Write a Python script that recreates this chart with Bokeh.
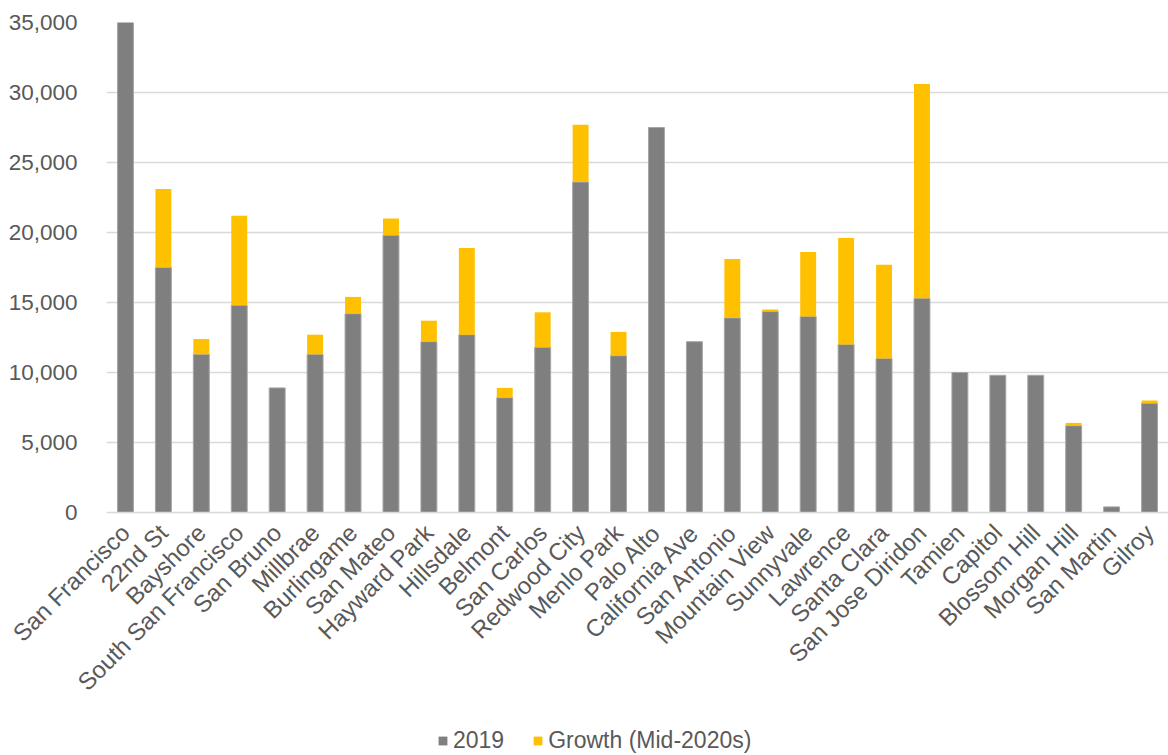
from bokeh.plotting import figure
from bokeh.layouts import column
from bokeh.models import ColumnDataSource, Legend, LegendItem, NumeralTickFormatter, FixedTicker
from bokeh.embed import file_html
from bokeh.resources import INLINE
import math

stations = ["San Francisco", "22nd St", "Bayshore", "South San Francisco", "San Bruno",
            "Millbrae", "Burlingame", "San Mateo", "Hayward Park", "Hillsdale", "Belmont",
            "San Carlos", "Redwood City", "Menlo Park", "Palo Alto", "California Ave",
            "San Antonio", "Mountain View", "Sunnyvale", "Lawrence", "Santa Clara",
            "San Jose Diridon", "Tamien", "Capitol", "Blossom Hill", "Morgan Hill",
            "San Martin", "Gilroy"]
y2019 = [35000, 17500, 11300, 14800, 8900, 11300, 14200, 19800, 12200, 12700, 8200,
         11800, 23600, 11200, 27500, 12200, 13900, 14350, 14000, 12000, 11000,
         15300, 10000, 9800, 9800, 6200, 400, 7800]
growth = [0, 5600, 1100, 6400, 0, 1400, 1200, 1200, 1500, 6200, 700,
          2500, 4100, 1700, 0, 0, 4200, 150, 4600, 7600, 6700,
          15300, 0, 0, 0, 200, 0, 200]
y_ticks = [0, 5000, 10000, 15000, 20000, 25000, 30000, 35000]
series_names = ["2019", "Growth (Mid-2020s)"]
colors = ["#7f7f7f", "#ffc000"]

source = ColumnDataSource(dict(station=stations, y2019=y2019, growth=growth))

FONT = "Liberation Sans"
TXT = "#595959"

p = figure(x_range=stations, y_range=(0, 35000), frame_width=1062, frame_height=490,
           output_backend="svg", toolbar_location=None,
           min_border_left=106, min_border_right=0, min_border_top=22, min_border_bottom=0)

rs = p.vbar_stack(["y2019", "growth"], x="station", width=0.42, source=source,
                  fill_color=colors, line_color=["#a6a6a6", None],
                  line_width=1)

p.outline_line_color = None
p.background_fill_color = "white"
p.border_fill_color = "white"

p.xgrid.grid_line_color = None
p.ygrid.grid_line_color = "#d9d9d9"
p.ygrid.grid_line_width = 1.5

p.yaxis.ticker = FixedTicker(ticks=y_ticks)
p.yaxis.formatter = NumeralTickFormatter(format="0,0")
p.yaxis.axis_line_color = None
p.yaxis.major_tick_line_color = None
p.yaxis.minor_tick_line_color = None
p.yaxis.major_label_text_font = FONT
p.yaxis.major_label_text_font_size = "22.5px"
p.yaxis.major_label_text_color = TXT
p.yaxis.major_label_standoff = 23

p.xaxis.axis_line_color = "#d9d9d9"
p.xaxis.axis_line_width = 1.5
p.xaxis.major_tick_line_color = None
p.xaxis.minor_tick_line_color = None
p.xaxis.major_label_orientation = math.pi / 4
p.xaxis.major_label_text_font = FONT
p.xaxis.major_label_text_font_size = "24px"
p.xaxis.major_label_text_color = TXT
p.xaxis.major_label_standoff = 10
p.x_range.range_padding = 0

# legend-only strip below the chart (proxy glyphs sit outside the visible range)
p2 = figure(width=1168, height=46, output_backend="svg", toolbar_location=None,
            min_border=0, x_range=(0, 1), y_range=(0, 1))
p2.axis.visible = False
p2.grid.visible = False
p2.outline_line_color = None
p2.border_fill_color = "white"
lr = [p2.rect(x=[-5], y=[-5], width=0.1, height=0.1, fill_color=c, line_color=None)
      for c in colors]
legend = Legend(items=[LegendItem(label=n, renderers=[r]) for n, r in zip(series_names, lr)],
                orientation="horizontal", location=(331, 0),
                label_text_font=FONT, label_text_font_size="23px", label_text_color=TXT,
                glyph_width=11, glyph_height=11, spacing=28, label_standoff=5,
                border_line_color=None, background_fill_alpha=0, padding=0, margin=0)
p2.add_layout(legend, "center")

open("out.html", "w").write(file_html(column(p, p2, spacing=0), INLINE))
